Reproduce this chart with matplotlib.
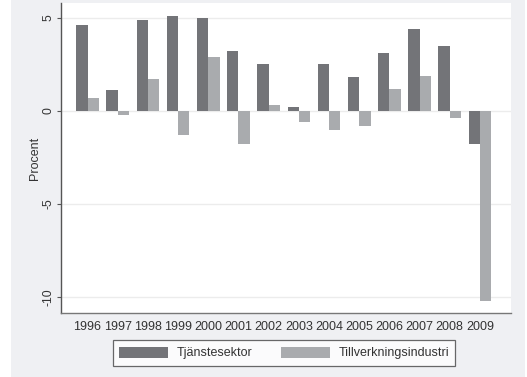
import matplotlib
matplotlib.use("Agg")
import matplotlib.pyplot as plt
import numpy as np
from matplotlib.patches import Rectangle

years = ["1996", "1997", "1998", "1999", "2000", "2001", "2002",
         "2003", "2004", "2005", "2006", "2007", "2008", "2009"]
tjanst = [4.6, 1.1, 4.9, 5.1, 5.0, 3.2, 2.5, 0.2, 2.5, 1.8, 3.1, 4.4, 3.5, -1.8]
tillv = [0.7, -0.2, 1.7, -1.3, 2.9, -1.8, 0.3, -0.6, -1.0, -0.8, 1.2, 1.9, -0.4, -10.2]
series_names = ["Tjänstesektor", "Tillverkningsindustri"]
yticks = [-10, -5, 0, 5]

plt.rcParams['font.family'] = ['Liberation Sans', 'DejaVu Sans']

W, H = 527, 377
fig = plt.figure(figsize=(W / 100, H / 100), dpi=100)
fig.patch.set_facecolor('white')
# gray panel
fig.add_artist(Rectangle((11 / W, 0), (525 - 11) / W, 1, transform=fig.transFigure,
                         facecolor='#eff0f3', edgecolor='none', zorder=-10))

ax = fig.add_axes([61 / W, 1 - 313 / H, (511 - 61) / W, (313 - 3) / H])
ax.set_facecolor('white')

x = np.arange(len(years))
w = 0.375
dark = '#737478'
light = '#a9abae'
ax.bar(x - w / 2, tjanst, width=w, color=dark, label=series_names[0], zorder=3)
ax.bar(x + w / 2, tillv, width=w, color=light, label=series_names[1], zorder=3)

ax.set_xlim(-0.88, 14.03)
ax.set_ylim(-10.86, 5.8)
ax.set_yticks(yticks)
ax.set_yticklabels([str(v) for v in yticks], rotation=90, va='center', fontsize=8.8, color='#333333')
ax.set_xticks(x)
ax.set_xticklabels(years, fontsize=9.0, color='#333333')
ax.tick_params(axis='x', length=0, pad=6)
ax.tick_params(axis='y', length=3, width=0.8, color='#555555', pad=2)
ax.yaxis.grid(True, color='#ececec', linewidth=1.0, zorder=0)
ax.set_axisbelow(True)

for s in ['top', 'right']:
    ax.spines[s].set_visible(False)
ax.spines['left'].set_color('#555555')
ax.spines['left'].set_linewidth(1.0)
ax.spines['bottom'].set_color('#777777')
ax.spines['bottom'].set_linewidth(1.0)

ax.set_ylabel("Procent", fontsize=9.0, color='#333333', labelpad=1)

leg = fig.legend(loc='center', bbox_to_anchor=(284 / W, 1 - 353 / H), ncol=2,
                 fontsize=9.0, frameon=True, fancybox=False, shadow=False,
                 handlelength=3.9, handleheight=1.0, handletextpad=0.7,
                 columnspacing=2.3, borderpad=0.5, borderaxespad=0)
leg.get_frame().set_edgecolor('#444444')
leg.get_frame().set_linewidth(0.9)
leg.get_frame().set_facecolor('white')
for t in leg.get_texts():
    t.set_color('#333333')

fig.savefig("out.png", dpi=100)
